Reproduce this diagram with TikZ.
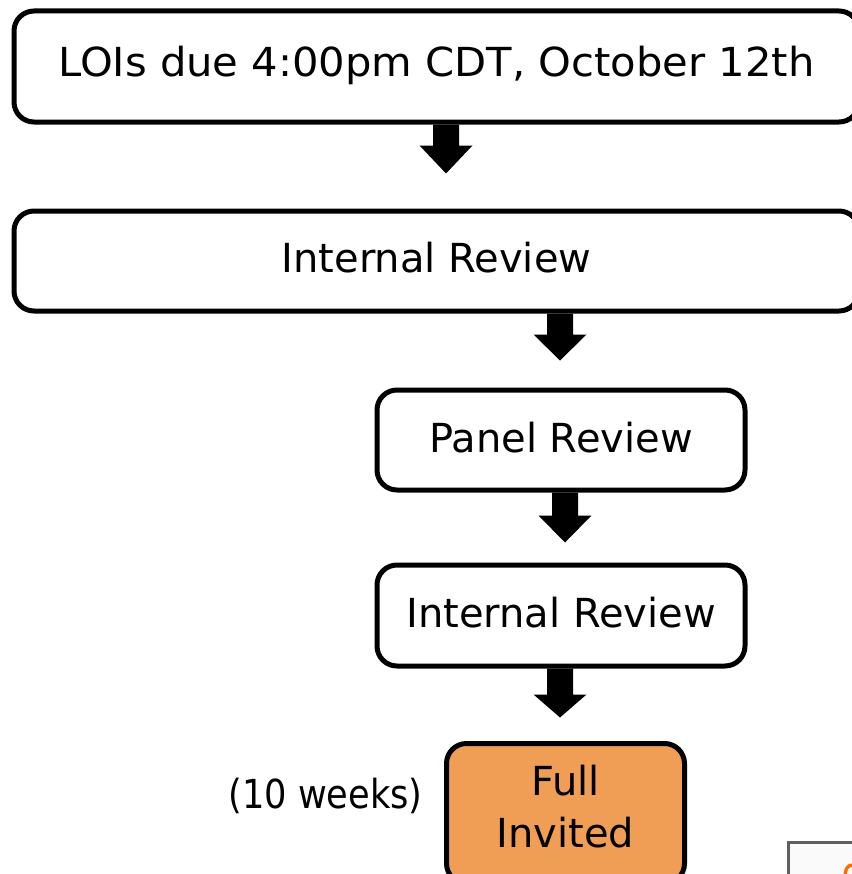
\documentclass[tikz,border=0pt]{standalone}
\usepackage{fontspec}
\usepackage{graphicx}
\setmainfont{DejaVu Sans}
\usetikzlibrary{calc}
\definecolor{fullfill}{HTML}{F09E56}
\definecolor{boxgray}{HTML}{606060}
\definecolor{glyphorange}{HTML}{FF6A00}
\tikzset{
  stepbox/.style={draw=black, line width=3.75pt, rounded corners=15pt, fill=white,
    inner sep=0pt, font=\fontsize{30}{39}\selectfont, align=center},
  fullbox/.style={stepbox, fill=fullfill},
  plain/.style={inner sep=0pt, font=\fontsize{30}{39}\selectfont},
}
\newcommand{\blockarr}[3]{%
  \fill[black] #1 ++(-13,0) -- ++(0,#2) -- ++(-13.5,0) -- ++(26.5,#3) -- ++(26.5,-#3) -- ++(-13.5,0) -- ++(0,-#2) -- cycle;}
\begin{document}
\begin{tikzpicture}[x=0.75pt, y=-0.75pt]
\useasboundingbox (0,0) rectangle (852,874);
\clip (0,0) rectangle (852,874);
\fill[white] (0,0) rectangle (852,874);

\node[stepbox, minimum width=845*0.75pt, minimum height=111*0.75pt] (b1) at (436.5,66.5) {};
\node[plain, anchor=base] (t1) at (436.5,76) {\scalebox{1.042}[1]{LOIs due 4:00pm CDT, October 12th}};

\node[stepbox, minimum width=845*0.75pt, minimum height=100*0.75pt] (b2) at (436.5,261) {};
\node[plain, anchor=base] (t2) at (436.5,272) {Internal Review};

\node[stepbox, minimum width=368*0.75pt, minimum height=100*0.75pt] (b3) at (561,440) {};
\node[plain, anchor=base] (t3) at (561,452) {Panel Review};

\node[stepbox, minimum width=368*0.75pt, minimum height=101*0.75pt] (b4) at (561,615.5) {};
\node[plain, anchor=base] (t4) at (561,627) {Internal Review};

\node[fullbox, minimum width=238*0.75pt, minimum height=140*0.75pt] (b5) at (565.5,813.5) {};
\node[plain, anchor=base] (t5a) at (565.5,795) {Full};
\node[plain, anchor=base] (t5b) at (565.5,847) {Invited};

\node[plain, anchor=base east] (wk) at (423,808) {\scalebox{0.88}[1]{(10 weeks)}};

\blockarr{($(b1.south)+(9.5,0)$)}{21}{28}
\blockarr{($(b2.south)+(123.5,0)$)}{21}{26}
\blockarr{($(b3.south)+(4,0)$)}{23}{27}
\blockarr{($(b4.south)+(-1,0)$)}{26}{23}

\node[draw=boxgray, fill=white!98!black, line width=2.25pt, anchor=north west,
      minimum width=120*0.75pt, minimum height=60*0.75pt, inner sep=0pt] (corner) at (786.5,841) {};
\draw[glyphorange, line width=2.5pt] (845,878) .. controls (845,868) and (848,865) .. (853,865);
\end{tikzpicture}
\end{document}
